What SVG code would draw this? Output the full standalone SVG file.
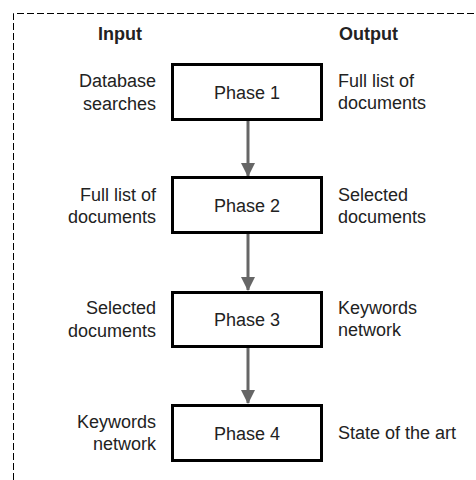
<svg xmlns="http://www.w3.org/2000/svg" width="476" height="480" viewBox="0 0 476 480">
<style>
text{font-family:"Liberation Sans",Arial,sans-serif;font-size:18px;fill:#222}
.h{font-weight:bold}
.l{text-anchor:end}
.c{text-anchor:middle}
.box{fill:#fff;stroke:#000;stroke-width:3}
.conn{stroke:#666;stroke-width:3;fill:none}
</style>
<defs>
<marker id="ah" markerUnits="userSpaceOnUse" markerWidth="14" markerHeight="18" refX="13" refY="7" orient="auto">
<path d="M0,0 L14,7 L0,14 z" fill="#666"/>
</marker>
</defs>
<rect width="476" height="480" fill="#fff"/>
<path d="M13.5,480 V13.5 H476" fill="none" stroke="#000" stroke-width="1" stroke-dasharray="7,3"/>
<text class="h" x="98" y="40">Input</text>
<text class="h" x="339" y="40">Output</text>
<g id="connectors">
<line class="conn" x1="248" y1="121" x2="248" y2="176" marker-end="url(#ah)"/>
<line class="conn" x1="248" y1="234" x2="248" y2="290" marker-end="url(#ah)"/>
<line class="conn" x1="248" y1="348" x2="248" y2="403" marker-end="url(#ah)"/>
</g>
<g id="phase1">
<rect class="box" x="172.5" y="64.5" width="149" height="55"/>
<text class="c" x="247" y="99">Phase 1</text>
<text class="l" x="156" y="87">Database</text>
<text class="l" x="156" y="110">searches</text>
<text x="338" y="87">Full list of</text>
<text x="338" y="109">documents</text>
</g>
<g id="phase2">
<rect class="box" x="172.5" y="177.5" width="149" height="55"/>
<text class="c" x="247" y="212">Phase 2</text>
<text class="l" x="156" y="201">Full list of</text>
<text class="l" x="156" y="223">documents</text>
<text x="338" y="201">Selected</text>
<text x="338" y="223">documents</text>
</g>
<g id="phase3">
<rect class="box" x="172.5" y="292.5" width="149" height="54"/>
<text class="c" x="247" y="326">Phase 3</text>
<text class="l" x="156" y="314">Selected</text>
<text class="l" x="156" y="337">documents</text>
<text x="338" y="314">Keywords</text>
<text x="338" y="336">network</text>
</g>
<g id="phase4">
<rect class="box" x="172.5" y="405.5" width="149" height="55"/>
<text class="c" x="247" y="440">Phase 4</text>
<text class="l" x="156" y="428">Keywords</text>
<text class="l" x="156" y="450">network</text>
<text x="338" y="439">State of the art</text>
</g>
</svg>
